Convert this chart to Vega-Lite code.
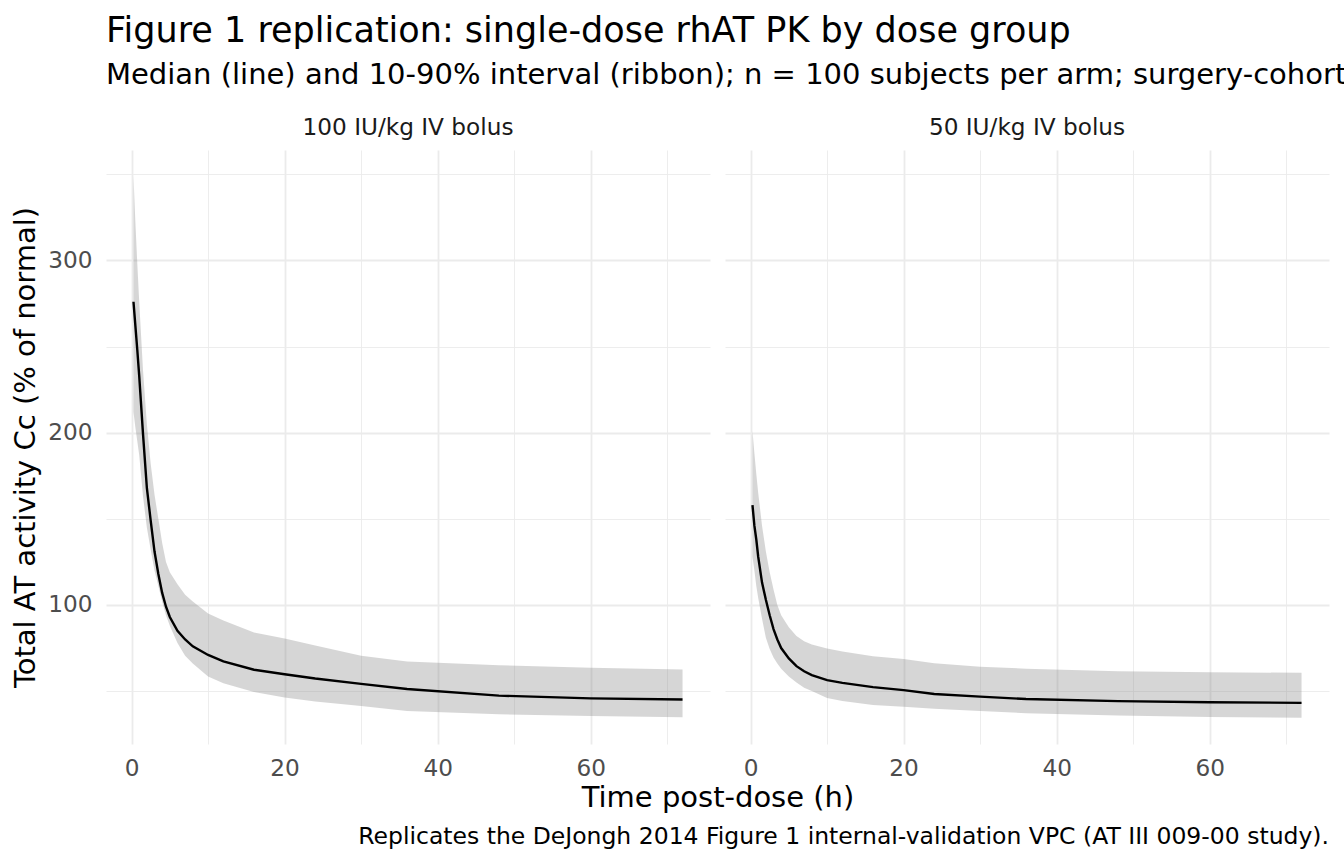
{
  "$schema": "https://vega.github.io/schema/vega-lite/v6.json",
  "background": "white",
  "padding": {"left": 11, "top": 13, "right": 0, "bottom": 0},
  "title": {
    "text": "Figure 1 replication: single-dose rhAT PK by dose group",
    "subtitle": "Median (line) and 10-90% interval (ribbon); n = 100 subjects per arm; surgery-cohort",
    "anchor": "start",
    "frame": "group",
    "fontSize": 35,
    "fontWeight": "normal",
    "color": "black",
    "subtitleFontSize": 29,
    "subtitleColor": "black",
    "subtitlePadding": 12,
    "offset": 26
  },
  "vconcat": [
    {
      "title": {
        "text": "Replicates the DeJongh 2014 Figure 1 internal-validation VPC (AT III 009-00 study).",
        "orient": "bottom",
        "anchor": "end",
        "fontSize": 23.5,
        "fontWeight": "normal",
        "color": "black",
        "offset": 12
      },
      "data": {
        "values": [
          {"dose": "100 IU/kg IV bolus", "time": 0.25, "lo": 212, "med": 276, "hi": 349},
          {"dose": "100 IU/kg IV bolus", "time": 0.5, "lo": 203, "med": 262, "hi": 322},
          {"dose": "100 IU/kg IV bolus", "time": 0.75, "lo": 195, "med": 248, "hi": 298},
          {"dose": "100 IU/kg IV bolus", "time": 1, "lo": 187, "med": 233, "hi": 276},
          {"dose": "100 IU/kg IV bolus", "time": 1.5, "lo": 163, "med": 199, "hi": 236},
          {"dose": "100 IU/kg IV bolus", "time": 2, "lo": 145, "med": 168, "hi": 205},
          {"dose": "100 IU/kg IV bolus", "time": 2.5, "lo": 132, "med": 149, "hi": 182},
          {"dose": "100 IU/kg IV bolus", "time": 3, "lo": 120, "med": 131, "hi": 164},
          {"dose": "100 IU/kg IV bolus", "time": 3.5, "lo": 111, "med": 118, "hi": 150},
          {"dose": "100 IU/kg IV bolus", "time": 4, "lo": 102, "med": 107, "hi": 136},
          {"dose": "100 IU/kg IV bolus", "time": 4.5, "lo": 94, "med": 99, "hi": 125},
          {"dose": "100 IU/kg IV bolus", "time": 5, "lo": 88, "med": 93, "hi": 119},
          {"dose": "100 IU/kg IV bolus", "time": 6, "lo": 78, "med": 85, "hi": 112},
          {"dose": "100 IU/kg IV bolus", "time": 7, "lo": 70.5, "med": 80, "hi": 106},
          {"dose": "100 IU/kg IV bolus", "time": 8, "lo": 66, "med": 76, "hi": 102},
          {"dose": "100 IU/kg IV bolus", "time": 10, "lo": 58.5, "med": 71, "hi": 95},
          {"dose": "100 IU/kg IV bolus", "time": 12, "lo": 54.5, "med": 67.3, "hi": 91},
          {"dose": "100 IU/kg IV bolus", "time": 16, "lo": 49.5, "med": 62.4, "hi": 84},
          {"dose": "100 IU/kg IV bolus", "time": 20, "lo": 46.3, "med": 59.8, "hi": 80.5},
          {"dose": "100 IU/kg IV bolus", "time": 24, "lo": 44, "med": 57.3, "hi": 76.5},
          {"dose": "100 IU/kg IV bolus", "time": 30, "lo": 41.4, "med": 54.2, "hi": 70.5},
          {"dose": "100 IU/kg IV bolus", "time": 36, "lo": 38.5, "med": 51.2, "hi": 67.2},
          {"dose": "100 IU/kg IV bolus", "time": 48, "lo": 36.5, "med": 47.4, "hi": 65},
          {"dose": "100 IU/kg IV bolus", "time": 60, "lo": 35.5, "med": 45.8, "hi": 63.5},
          {"dose": "100 IU/kg IV bolus", "time": 72, "lo": 34.8, "med": 45.1, "hi": 62.5},
          {"dose": "50 IU/kg IV bolus", "time": 0.25, "lo": 128, "med": 158, "hi": 201},
          {"dose": "50 IU/kg IV bolus", "time": 0.5, "lo": 120, "med": 146, "hi": 188},
          {"dose": "50 IU/kg IV bolus", "time": 0.75, "lo": 111, "med": 138, "hi": 176},
          {"dose": "50 IU/kg IV bolus", "time": 1, "lo": 104, "med": 128, "hi": 165},
          {"dose": "50 IU/kg IV bolus", "time": 1.5, "lo": 92, "med": 113, "hi": 146},
          {"dose": "50 IU/kg IV bolus", "time": 2, "lo": 81, "med": 103, "hi": 131},
          {"dose": "50 IU/kg IV bolus", "time": 2.5, "lo": 74.5, "med": 94, "hi": 119},
          {"dose": "50 IU/kg IV bolus", "time": 3, "lo": 69.5, "med": 86, "hi": 109},
          {"dose": "50 IU/kg IV bolus", "time": 3.5, "lo": 66, "med": 80, "hi": 100},
          {"dose": "50 IU/kg IV bolus", "time": 4, "lo": 63, "med": 75, "hi": 94},
          {"dose": "50 IU/kg IV bolus", "time": 5, "lo": 58.5, "med": 69, "hi": 87},
          {"dose": "50 IU/kg IV bolus", "time": 6, "lo": 55, "med": 64.5, "hi": 82},
          {"dose": "50 IU/kg IV bolus", "time": 7, "lo": 52, "med": 61.5, "hi": 79},
          {"dose": "50 IU/kg IV bolus", "time": 8, "lo": 50, "med": 59.3, "hi": 77},
          {"dose": "50 IU/kg IV bolus", "time": 10, "lo": 46, "med": 56.4, "hi": 74.8},
          {"dose": "50 IU/kg IV bolus", "time": 12, "lo": 44.2, "med": 54.8, "hi": 73},
          {"dose": "50 IU/kg IV bolus", "time": 16, "lo": 42, "med": 52.3, "hi": 70.3},
          {"dose": "50 IU/kg IV bolus", "time": 20, "lo": 40.9, "med": 50.6, "hi": 68.6},
          {"dose": "50 IU/kg IV bolus", "time": 24, "lo": 39.8, "med": 48.3, "hi": 66.2},
          {"dose": "50 IU/kg IV bolus", "time": 30, "lo": 38.4, "med": 46.8, "hi": 64.2},
          {"dose": "50 IU/kg IV bolus", "time": 36, "lo": 37.2, "med": 45.4, "hi": 63},
          {"dose": "50 IU/kg IV bolus", "time": 48, "lo": 35.8, "med": 44.2, "hi": 61.6},
          {"dose": "50 IU/kg IV bolus", "time": 60, "lo": 35, "med": 43.5, "hi": 61},
          {"dose": "50 IU/kg IV bolus", "time": 72, "lo": 34.5, "med": 43.2, "hi": 60.6}
        ]
      },
      "facet": {
        "column": {
          "field": "dose",
          "type": "nominal",
          "title": "Time post-dose (h)",
          "header": {
            "labelOrient": "top",
            "labelFontSize": 23.2,
            "labelColor": "#1A1A1A",
            "labelBaseline": "alphabetic",
            "labelPadding": -8,
            "titleOrient": "bottom",
            "titleFontSize": 29,
            "titleFontWeight": "normal",
            "titleColor": "black",
            "titlePadding": -6
          }
        }
      },
      "spacing": 15,
      "spec": {
        "width": 604,
        "height": 594,
        "encoding": {
          "x": {
            "field": "time",
            "type": "quantitative",
            "scale": {"domain": [-3.34, 75.59], "nice": false, "zero": false},
            "axis": {
              "title": null,
              "values": [0, 10, 20, 30, 40, 50, 60, 70],
              "labelExpr": "datum.value % 20 === 0 ? datum.label : ''",
              "labelPadding": 13,
              "gridWidth": {"condition": {"test": "datum.value % 20 === 0", "value": 1.8}, "value": 0.9}
            }
          }
        },
        "layer": [
          {
            "mark": {"type": "area", "color": "#7F7F7F", "opacity": 0.32},
            "encoding": {
              "y": {
                "field": "lo",
                "type": "quantitative",
                "scale": {"domain": [19.3, 364.1], "nice": false, "zero": false},
                "axis": {
                  "title": "Total AT activity Cc (% of normal)",
                  "values": [50, 100, 150, 200, 250, 300, 350],
                  "labelExpr": "datum.value % 100 === 0 ? datum.label : ''",
                  "labelPadding": 14,
                  "titlePadding": 7,
                  "gridWidth": {"condition": {"test": "datum.value % 100 === 0", "value": 1.8}, "value": 0.9}
                }
              },
              "y2": {"field": "hi"}
            }
          },
          {
            "mark": {"type": "line", "color": "black", "strokeWidth": 2.4},
            "encoding": {
              "y": {"field": "med", "type": "quantitative"}
            }
          }
        ]
      }
    }
  ],
  "config": {
    "font": "DejaVu Sans",
    "view": {"stroke": null},
    "axis": {
      "domain": false,
      "ticks": false,
      "gridColor": "#EBEBEB",
      "labelFontSize": 23.2,
      "labelColor": "#4D4D4D",
      "titleFontSize": 29,
      "titleFontWeight": "normal",
      "titleColor": "black"
    }
  }
}
